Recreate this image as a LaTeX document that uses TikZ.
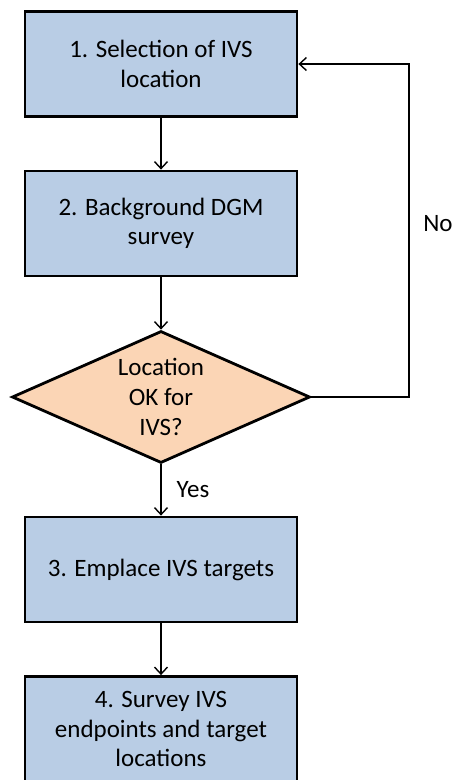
\documentclass[tikz,border=0pt]{standalone}
\usepackage{fontspec}
\setmainfont{Carlito}
\usetikzlibrary{shapes.geometric,arrows.meta}

\definecolor{stepblue}{RGB}{185,205,229}
\definecolor{checkorange}{RGB}{251,213,181}

\newcommand{\boxwd}{272pt}
\newcommand{\boxht}{105pt}
\newcommand{\loopx}{409}

\begin{document}
\begin{tikzpicture}[x=1pt,y=-1pt,
	stepbox/.style={draw=black,line width=2.8pt,fill=stepblue,minimum width=\boxwd,minimum height=\boxht,inner sep=0pt,align=center,font=\fontsize{25}{29.5}\selectfont},
	checkbox/.style={diamond,aspect=2.25,draw=black,line width=2.8pt,fill=checkorange,minimum width=298pt,minimum height=132pt,inner sep=0pt,align=center,font=\fontsize{25}{30}\selectfont},
	flow/.style={line width=1.4pt,-{Straight Barb[length=7pt,width=13pt]}},
	lbl/.style={inner sep=0pt,font=\fontsize{25}{28}\selectfont}]
	%Fix the page to the reference size
	\useasboundingbox (0,0) rectangle (455,780);
	%The steps and the check
	\node[stepbox] (select) at (161,64) {1. Selection of IVS\\location};
	\node[stepbox] (bgsurvey) at (161,223.5) {2. Background DGM\\survey};
	\node[checkbox] (locok) at (161,397) {Location\\OK for\\IVS?};
	\node[stepbox] (emplace) at (161,569.5) {3. Emplace IVS targets};
	\node[stepbox] (endsurvey) at (161,729) {4. Survey IVS\\endpoints and target\\locations};
	%The forward flow
	\draw[flow] (select) -- (bgsurvey);
	\draw[flow] (bgsurvey) -- (locok);
	\draw[flow] (locok) -- node[lbl,midway,anchor=west,xshift=15pt] (yes) {Yes} (emplace);
	\draw[flow] (emplace) -- (endsurvey);
	%The way back when the location is not OK
	\coordinate (loopturn) at (\loopx,397);
	\draw[flow] (locok.east) -- (loopturn) |- (select.east);
	\node[lbl] (no) at (438,224) {No};
\end{tikzpicture}
\end{document}
